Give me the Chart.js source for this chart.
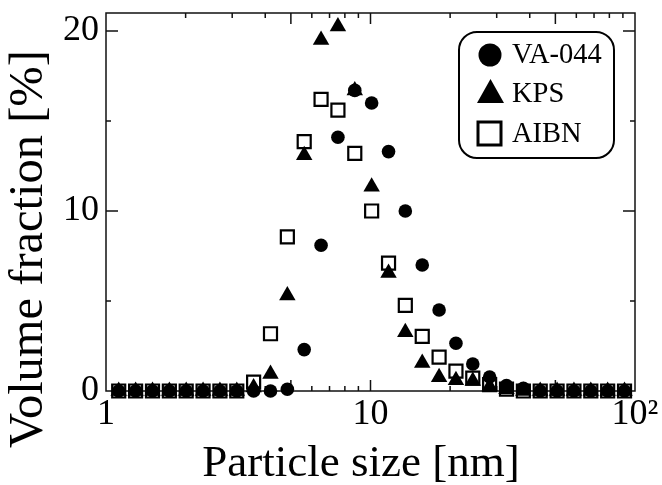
<!DOCTYPE html>
<html><head><meta charset="utf-8">
<script src="https://cdn.jsdelivr.net/npm/chart.js@4"></script>
<style>html,body{margin:0;padding:0;background:#fff;}#wrap{width:662px;height:485px;}</style>
</head><body><div id="wrap"><canvas id="c" width="662" height="485"></canvas></div>
<script>
// ---- data ----
const particleSizes = [1.117, 1.294, 1.499, 1.736, 2.01, 2.328, 2.696, 3.122, 3.615, 4.187, 4.849, 5.615, 6.503, 7.531, 8.721, 10.1, 11.7, 13.54, 15.69, 18.17, 21.04, 24.36, 28.21, 32.67, 37.84, 43.82, 50.75, 58.77, 68.06, 78.82, 91.28];
const va044 = [0, 0, 0, 0, 0, 0, 0, 0, 0, 0, 0.1, 2.3, 8.1, 14.1, 16.7, 16.0, 13.3, 10.0, 7.0, 4.5, 2.65, 1.5, 0.78, 0.3, 0.15, 0, 0, 0, 0, 0, 0];
const kps   = [0, 0, 0, 0, 0, 0, 0, 0, 0.2, 0.95, 5.3, 13.1, 19.5, 20.25, 16.7, 11.35, 6.55, 3.27, 1.55, 0.77, 0.6, 0.55, 0.25, 0.1, 0, 0, 0, 0, 0, 0, 0];
const aibn  = [0, 0, 0, 0, 0, 0, 0, 0, 0.49, 3.18, 8.56, 13.85, 16.2, 15.6, 13.2, 10.0, 7.1, 4.76, 3.03, 1.88, 1.1, 0.72, 0.35, 0.1, 0, 0, 0, 0, 0, 0, 0];
const seriesNames = ['VA-044', 'KPS', 'AIBN'];
const xTickValues = [1, 10, 100];
const xTickLabels = ['1', '10', '10\u00B2'];
const yTickValues = [0, 10, 20];
const yTickLabels = ['0', '10', '20'];
const xAxisTitle = 'Particle size [nm]';
const yAxisTitle = 'Volume fraction [%]';
const xLongTicks = [5, 10, 50];
const xShortTicks = [2, 3, 4, 6, 7, 8, 9, 20, 30, 40, 60, 70, 80, 90];
const yLongTicks = [10, 20];
const yShortTicks = [5, 15];

const FONT = '"Liberation Serif", "Times New Roman", serif';
const pts = arr => particleSizes.map((x, i) => ({x: x, y: arr[i]}));

const framePlugin = {
  id: 'frame',
  beforeDatasetsDraw(chart) {
    const ctx = chart.ctx, a = chart.chartArea;
    const xs = chart.scales.x, ys = chart.scales.y;
    ctx.save();
    ctx.strokeStyle = '#111';
    ctx.lineWidth = 1.5;
    ctx.strokeRect(a.left, a.top, a.right - a.left, a.bottom - a.top);
    ctx.beginPath();
    const xt = (v, len) => { const p = xs.getPixelForValue(v);
      ctx.moveTo(p, a.bottom); ctx.lineTo(p, a.bottom - len);
      ctx.moveTo(p, a.top); ctx.lineTo(p, a.top + len); };
    const yt = (v, len) => { const p = ys.getPixelForValue(v);
      ctx.moveTo(a.left, p); ctx.lineTo(a.left + len, p);
      ctx.moveTo(a.right, p); ctx.lineTo(a.right - len, p); };
    xLongTicks.forEach(v => xt(v, 11));
    xShortTicks.forEach(v => xt(v, 5));
    yLongTicks.forEach(v => yt(v, 12));
    yShortTicks.forEach(v => yt(v, 5));
    ctx.stroke();
    ctx.restore();
  },
  afterDraw(chart) {
    const ctx = chart.ctx;
    ctx.save();
    ctx.fillStyle = '#000';
    // axis titles
    ctx.font = '45px ' + FONT;
    ctx.textAlign = 'center';
    ctx.textBaseline = 'alphabetic';
    ctx.fillText(xAxisTitle, 361, 476);
    ctx.save();
    ctx.translate(42, 249);
    ctx.rotate(-Math.PI / 2);
    ctx.font = '48.5px ' + FONT;
    ctx.fillText(yAxisTitle, 0, 0);
    ctx.restore();
    // legend box
    ctx.strokeStyle = '#000';
    ctx.lineWidth = 2;
    ctx.beginPath();
    ctx.roundRect(459, 32, 155, 126, 18);
    ctx.stroke();
    // legend markers
    ctx.beginPath(); ctx.arc(490, 55, 11.5, 0, Math.PI * 2); ctx.fill();
    ctx.beginPath(); ctx.moveTo(490.5, 79); ctx.lineTo(504, 103); ctx.lineTo(477, 103); ctx.closePath(); ctx.fill();
    ctx.lineWidth = 3;
    ctx.strokeRect(478, 122, 23, 23);
    ctx.font = '28.5px ' + FONT;
    ctx.textAlign = 'left';
    ctx.fillText(seriesNames[0], 512, 63);
    ctx.fillText(seriesNames[1], 512, 101.5);
    ctx.fillText(seriesNames[2], 512, 142);
    ctx.restore();
  }
};

new Chart(document.getElementById('c'), {
  type: 'scatter',
  data: {
    datasets: [
      {label: seriesNames[0], data: pts(va044), pointStyle: 'circle', pointRadius: 6.8,
       backgroundColor: '#000', borderColor: '#000', borderWidth: 0, clip: false, order: 0},
      {label: seriesNames[1], data: pts(kps), pointStyle: 'triangle', pointRadius: 9.5,
       backgroundColor: '#000', borderColor: '#000', borderWidth: 0, clip: false, order: 1},
      {label: seriesNames[2], data: pts(aibn), pointStyle: 'rect', pointRadius: 9.2,
       backgroundColor: 'rgba(0,0,0,0)', borderColor: '#000', borderWidth: 2.2, clip: false, order: 2}
    ]
  },
  options: {
    responsive: false,
    animation: false,
    events: [],
    layout: {padding: {left: 0, right: 27, top: 13, bottom: 0}},
    plugins: {legend: {display: false}, tooltip: {enabled: false}},
    scales: {
      x: {
        type: 'logarithmic', min: 1, max: 100,
        afterBuildTicks: s => { s.ticks = xTickValues.map(v => ({value: v})); },
        afterFit: s => { s.height = 94; s.paddingLeft = 0; s.paddingRight = 0; },
        grid: {display: false, drawTicks: false},
        border: {display: false},
        ticks: {autoSkip: false, maxRotation: 0, padding: 2, color: '#000',
          font: {family: FONT, size: 36},
          callback: (v, i) => xTickLabels[i]}
      },
      y: {
        type: 'linear', min: 0, max: 21,
        afterBuildTicks: s => { s.ticks = yTickValues.map(v => ({value: v})); },
        afterFit: s => { s.width = 106; s.paddingTop = 0; s.paddingBottom = 0; },
        grid: {display: false, drawTicks: false},
        border: {display: false},
        ticks: {autoSkip: false, padding: 7, color: '#000',
          font: {family: FONT, size: 36},
          callback: (v, i) => yTickLabels[i]}
      }
    }
  },
  plugins: [framePlugin]
});
</script>
</body></html>
